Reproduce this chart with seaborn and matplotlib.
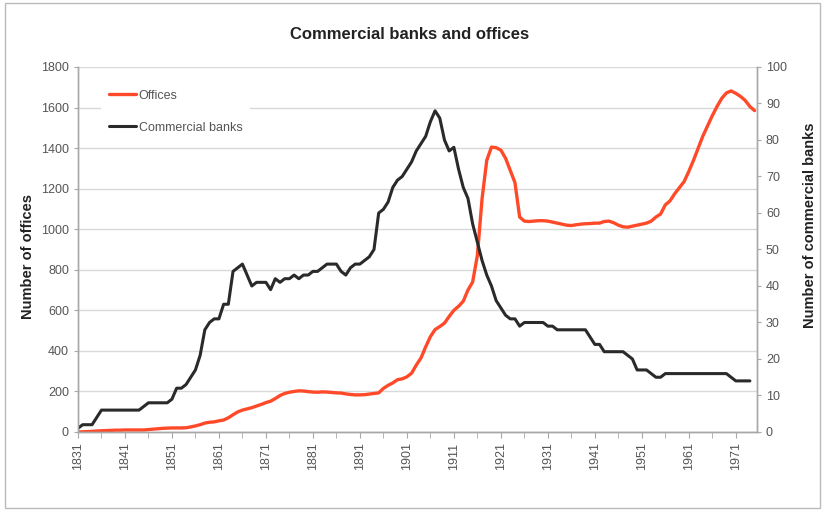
import matplotlib
matplotlib.use("Agg")
import matplotlib.pyplot as plt
from matplotlib.patches import Rectangle
import seaborn as sns

# yearly values
office_years = list(range(1831, 1976))
offices = [
    0, 1, 2, 3, 5, 6, 7, 8, 9, 9,
    10, 10, 10, 10, 10, 12, 14, 16, 18, 19,
    20, 20, 20, 21, 25, 30, 36, 44, 48, 50,
    55, 59, 70, 85, 99, 108, 114, 120, 128, 136,
    145, 152, 165, 180, 190, 196, 200, 203, 202, 199,
    197, 196, 198, 197, 195, 193, 192, 188, 185, 183,
    183, 184, 187, 190, 193, 215, 230, 242, 258, 262,
    272, 290, 330, 365, 420, 470, 505, 520, 537, 570,
    600, 620, 645, 700, 740, 870, 1150, 1340, 1405, 1402,
    1390, 1350, 1290, 1230, 1060, 1040, 1038, 1040, 1042, 1042,
    1040, 1035, 1030, 1025, 1020, 1018, 1022, 1025, 1027, 1028,
    1030, 1030, 1038, 1040, 1032, 1020, 1012, 1010, 1015, 1020,
    1025, 1030, 1040, 1060, 1075, 1120, 1140, 1175, 1205, 1235,
    1285, 1340, 1400, 1460, 1510, 1560, 1605, 1645, 1672, 1682,
    1670, 1655, 1635, 1605, 1585,
]

bank_years = list(range(1831, 1975))
banks = [
    1, 2, 2, 2, 4, 6, 6, 6, 6, 6,
    6, 6, 6, 6, 7, 8, 8, 8, 8, 8,
    9, 12, 12, 13, 15, 17, 21, 28, 30, 31,
    31, 35, 35, 44, 45, 46, 43, 40, 41, 41,
    41, 39, 42, 41, 42, 42, 43, 42, 43, 43,
    44, 44, 45, 46, 46, 46, 44, 43, 45, 46,
    46, 47, 48, 50, 60, 61, 63, 67, 69, 70,
    72, 74, 77, 79, 81, 85, 88, 86, 80, 77,
    78, 72, 67, 64, 57, 52, 47, 43, 40, 36,
    34, 32, 31, 31, 29, 30, 30, 30, 30, 30,
    29, 29, 28, 28, 28, 28, 28, 28, 28, 26,
    24, 24, 22, 22, 22, 22, 22, 21, 20, 17,
    17, 17, 16, 15, 15, 16, 16, 16, 16, 16,
    16, 16, 16, 16, 16, 16, 16, 16, 16, 15,
    14, 14, 14, 14,
]

sns.set_style("white")
plt.rcParams["font.family"] = ["Liberation Sans", "DejaVu Sans"]

grey = "#555555"
axis_col = "#a8a8a8"

fig = plt.figure(figsize=(8.25, 5.11), dpi=100)
ax = fig.add_axes([0.0945, 0.1546, 0.823, 0.7143])
ax2 = ax.twinx()

sns.lineplot(x=office_years, y=offices, ax=ax, color="#ff4a2a", lw=2.4, label="Offices")
sns.lineplot(x=bank_years, y=banks, ax=ax2, color="#2a2a2a", lw=2.2, label="Commercial banks")

ax.set_xlim(1831, 1975.5)
ax.set_ylim(0, 1800)
ax2.set_ylim(0, 100)
ax.set_yticks(range(0, 1801, 200))
ax2.set_yticks(range(0, 101, 10))
ax.set_xticks(range(1831, 1972, 10))
ax.set_xticks(range(1836, 1976, 10), minor=True)
ax.set_xticklabels([str(y) for y in range(1831, 1972, 10)], rotation=90)

ax.yaxis.grid(True, color="#d9d9d9", lw=1)
ax.set_axisbelow(True)

for a in (ax, ax2):
    a.spines["top"].set_visible(False)
    for s in ("left", "right", "bottom"):
        a.spines[s].set_color(axis_col)
        a.spines[s].set_linewidth(1)

ax.tick_params(axis="x", which="both", direction="out", length=4, color=axis_col,
               labelsize=9, labelcolor=grey, bottom=True)
ax.tick_params(axis="y", direction="out", length=3, color=axis_col, labelsize=9,
               labelcolor=grey, left=True)
ax2.tick_params(axis="y", direction="out", length=3, color=axis_col, labelsize=9,
                labelcolor=grey, right=True)

ax.set_xlabel("")
ax.set_ylabel("Number of offices", fontsize=10.5, fontweight="bold", color="#222222",
              rotation=90, va="center", ha="center")
ax2.set_ylabel("Number of commercial banks", fontsize=10.5, fontweight="bold",
               color="#222222", rotation=90, va="center", ha="center")
ax.yaxis.set_label_coords(-0.074, 0.48)
ax2.yaxis.set_label_coords(1.078, 0.567)

# one legend for both lines
h1, l1 = ax.get_legend_handles_labels()
h2, l2 = ax2.get_legend_handles_labels()
ax.get_legend().remove()
leg = ax2.legend(h1 + h2, l1 + l2, loc="upper left", bbox_to_anchor=(0.025, 0.975),
                 frameon=True, fancybox=False, facecolor="white", edgecolor="none",
                 framealpha=1, fontsize=9, labelspacing=1.6, handlelength=2.2,
                 handletextpad=0.2, borderpad=0.6)
for t in leg.get_texts():
    t.set_color(grey)

fig.text(0.497, 0.933, "Commercial banks and offices", ha="center", va="center",
         fontsize=12, fontweight="bold", color="#222222")

fig.patches.append(Rectangle((0.006, 0.006), 0.988, 0.988, transform=fig.transFigure,
                             fill=False, ec="#bbbbbb", lw=1))

fig.savefig("out.png", dpi=100)
